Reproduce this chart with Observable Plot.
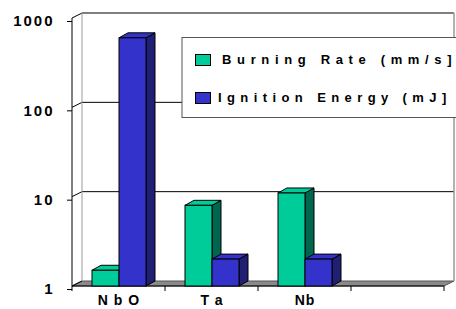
<!DOCTYPE html>
<html><head><meta charset="utf-8">
<script src="https://cdn.jsdelivr.net/npm/d3@7"></script>
<script src="https://cdn.jsdelivr.net/npm/@observablehq/plot@0.6"></script>
<style>
body{margin:0;background:#fff}
#chart svg{font-family:"Liberation Sans",Arial,sans-serif;overflow:visible}
g[aria-label="y-axis tick label"] text{letter-spacing:2px}
g[aria-label="x-axis tick label"] text{letter-spacing:1px}
</style></head><body><div id="chart"></div>
<script>
const categories = ["NbO", "Ta", "Nb", "-"];
const categoryLabels = ["N b O", "T a", "Nb", ""];
const seriesNames = ["Burning Rate (mm/s]", "Ignition Energy (mJ]"];
const burningRate = [1.5, 8, 11];
const ignitionEnergy = [600, 2, 2];
const yTicks = [1, 10, 100, 1000];

const frontColors = ["#00cc99", "#3333cc"];
const sideColors = ["#006650", "#1f1f73"];
const topColors = ["#00cc99", "#3333cc"];
const insets = [[20, 46], [47, 19]];
const DX = 9, DY = -5, WX = 10, WY = -5;

const series = [burningRate, ignitionEnergy];
const rows = series.map((vals, s) => vals.map((v, i) => ({cat: categories[i], value: v, s})));

function pts(a) { return a.map(p => p.join(",")).join(" "); }

function background(index, scales) {
  const x = scales.x, y = scales.y, bw = x.bandwidth();
  const xa = x(categories[0]), xb = x(categories[categories.length - 1]) + bw;
  const g = d3.create("svg:g");
  g.append("polygon").attr("points", pts([[xa, y(1)], [xb, y(1)], [xb + WX, y(1) + WY], [xa + WX, y(1) + WY]]))
    .attr("fill", "#8a8a8a").attr("stroke", "#555").attr("stroke-width", 1);
  for (const t of yTicks) {
    if (t !== 1) {
      g.append("line").attr("x1", xa + WX).attr("x2", xb + WX).attr("y1", y(t) + WY).attr("y2", y(t) + WY)
        .attr("stroke", "#000");
    }
    g.append("line").attr("x1", xa).attr("x2", xa + WX).attr("y1", y(t)).attr("y2", y(t) + WY)
      .attr("stroke", "#000");
  }
  g.append("line").attr("x1", xa + WX).attr("x2", xa + WX).attr("y1", y(1000) + WY).attr("y2", y(1) + WY)
    .attr("stroke", "#999");
  g.append("line").attr("x1", xb + WX).attr("x2", xb + WX).attr("y1", y(1000) + WY).attr("y2", y(1) + WY)
    .attr("stroke", "#999").attr("stroke-width", 1.5);
  g.append("line").attr("x1", xa).attr("x2", xa).attr("y1", y(1000)).attr("y2", y(1)).attr("stroke", "#000");
  g.append("line").attr("x1", xa).attr("x2", xb).attr("y1", y(1)).attr("y2", y(1)).attr("stroke", "#000");
  for (let i = 0; i <= categories.length; i++) {
    const xx = xa + i * bw;
    g.append("line").attr("x1", xx).attr("x2", xx).attr("y1", y(1)).attr("y2", y(1) + 5).attr("stroke", "#000");
  }
  return g.node();
}

function faces(s) {
  return (index, scales) => {
    const x = scales.x, y = scales.y, bw = x.bandwidth();
    const g = d3.create("svg:g");
    for (const r of rows[s]) {
      const x0 = x(r.cat) + insets[s][0], x1 = x(r.cat) + bw - insets[s][1];
      const y0 = y(1), y1 = y(r.value);
      g.append("polygon").attr("points", pts([[x1, y0], [x1 + DX, y0 + DY], [x1 + DX, y1 + DY], [x1, y1]]))
        .attr("fill", sideColors[s]).attr("stroke", "#000").attr("stroke-width", 1);
      g.append("polygon").attr("points", pts([[x0, y1], [x0 + DX, y1 + DY], [x1 + DX, y1 + DY], [x1, y1]]))
        .attr("fill", topColors[s]).attr("stroke", "#000").attr("stroke-width", 1);
    }
    return g.node();
  };
}

function legend() {
  const g = d3.create("svg:g").attr("text-anchor", "start");
  g.append("rect").attr("x", 182).attr("y", 37.5).attr("width", 290).attr("height", 80)
    .attr("fill", "#fff").attr("stroke", "#555");
  const ys = [54, 92];
  seriesNames.forEach((name, i) => {
    g.append("rect").attr("x", 195.5).attr("y", ys[i] + 0.5).attr("width", 15).attr("height", 11)
      .attr("fill", frontColors[i]).attr("stroke", "#000");
    g.append("text").attr("x", i === 0 ? 222 : 218).attr("y", ys[i] + 10).attr("text-anchor", "start")
      .attr("font-size", 13).attr("font-weight", "bold").attr("letter-spacing", i === 0 ? "5.65px" : "5.4px")
      .attr("fill", "#000").text(name);
  });
  return g.node();
}

const plot = Plot.plot({
  width: 456,
  height: 309,
  marginLeft: 72,
  marginRight: 12,
  marginTop: 18,
  marginBottom: 23,
  x: {type: "band", domain: categories, padding: 0},
  y: {type: "log", domain: [1, 1000]},
  marks: [
    background,
    faces(0),
    Plot.barY(rows[0], {x: "cat", y1: 1, y2: "value", fill: frontColors[0], stroke: "#000", strokeWidth: 1,
      insetLeft: insets[0][0], insetRight: insets[0][1]}),
    faces(1),
    Plot.barY(rows[1], {x: "cat", y1: 1, y2: "value", fill: frontColors[1], stroke: "#000", strokeWidth: 1,
      insetLeft: insets[1][0], insetRight: insets[1][1]}),
    Plot.axisY({anchor: "left", ticks: yTicks, tickFormat: d => String(d), tickSize: 5, tickPadding: 13,
      fontSize: 15, fontWeight: "bold", dy: 3, label: null}),
    Plot.axisX({tickSize: 0, tickPadding: 9, tickFormat: (d, i) => categoryLabels[categories.indexOf(d)],
      fontSize: 14, fontWeight: "bold", label: null}),
    legend
  ]
});
document.getElementById("chart").appendChild(plot);
</script>
</body></html>
